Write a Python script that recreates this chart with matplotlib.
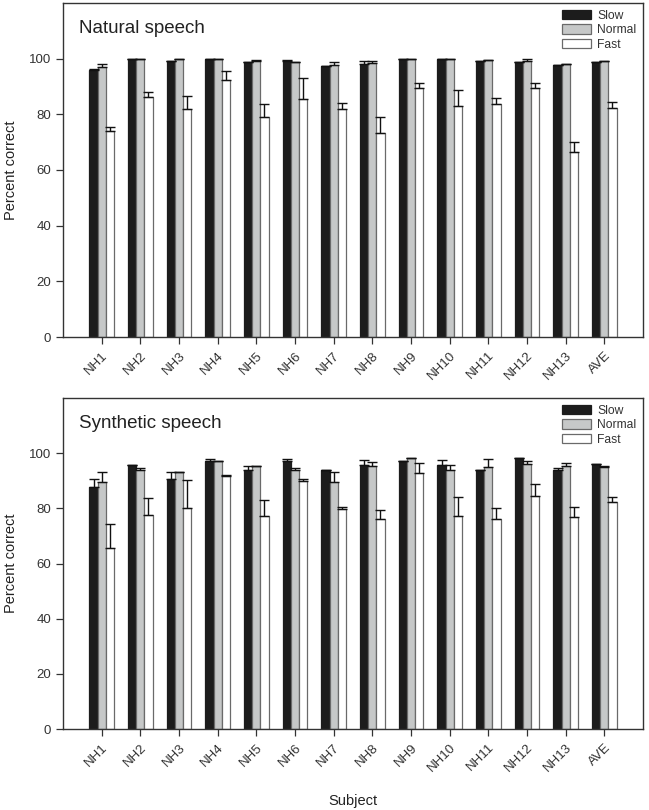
import numpy as np
import matplotlib
matplotlib.use("Agg")
import matplotlib.pyplot as plt

plt.rcParams['font.family'] = ['Liberation Sans', 'DejaVu Sans']

subjects = ["NH1", "NH2", "NH3", "NH4", "NH5", "NH6", "NH7", "NH8", "NH9",
            "NH10", "NH11", "NH12", "NH13", "AVE"]
conditions = ["Slow", "Normal", "Fast"]

# Natural speech: means and upper error bar lengths
nat_slow = [96.0, 100, 99.2, 100, 98.7, 99.0, 97.4, 98.2, 100, 100, 99.0, 98.7, 97.8, 98.9]
nat_slow_err = [0.2, 0, 0, 0, 0.2, 0.5, 0, 1.1, 0, 0, 0, 0, 0, 0]
nat_normal = [97.0, 100, 100, 100, 99.0, 98.9, 97.8, 98.6, 100, 100, 99.5, 99.2, 98.0, 99.0]
nat_normal_err = [1.0, 0, 0, 0, 0.5, 0, 1.1, 0.7, 0, 0, 0, 0.6, 0, 0]
nat_fast = [74.1, 86.2, 82.0, 92.5, 79.0, 85.4, 82.0, 73.2, 89.5, 83.0, 83.6, 89.4, 66.3, 82.4]
nat_fast_err = [1.3, 2.0, 4.6, 3.0, 4.6, 7.6, 1.9, 5.8, 1.9, 5.6, 2.2, 1.7, 3.6, 2.2]

# Synthetic speech
syn_slow = [87.8, 95.7, 90.7, 97.3, 93.9, 97.0, 93.8, 95.8, 97.2, 95.7, 93.9, 98.3, 93.9, 95.9]
syn_slow_err = [2.7, 0, 2.4, 0.7, 1.3, 1.0, 0, 1.8, 0, 1.8, 0, 0, 0.8, 0]
syn_normal = [89.5, 93.9, 93.1, 97.1, 95.3, 93.8, 89.5, 95.4, 98.3, 94.0, 94.9, 96.1, 95.4, 94.9]
syn_normal_err = [3.8, 0.9, 0, 0, 0, 1.0, 3.8, 1.5, 0, 1.7, 3.1, 1.0, 0.9, 0.4]
syn_fast = [65.5, 77.7, 80.0, 91.8, 77.1, 89.9, 79.7, 76.3, 92.7, 77.1, 76.3, 84.6, 76.7, 82.2]
syn_fast_err = [9.0, 5.9, 10.3, 0.3, 5.8, 0.7, 0.9, 3.0, 3.6, 7.1, 3.8, 4.3, 3.8, 1.9]

panels = [
    ("Natural speech", [nat_slow, nat_normal, nat_fast], [nat_slow_err, nat_normal_err, nat_fast_err]),
    ("Synthetic speech", [syn_slow, syn_normal, syn_fast], [syn_slow_err, syn_normal_err, syn_fast_err]),
]

fills = ["#1c1c1c", "#c6c8c8", "white"]
edges = ["#1c1c1c", "#6a6a6a", "#6a6a6a"]
axcol = "#333333"

fig = plt.figure(figsize=(6.49, 8.10), dpi=100)
axes = [fig.add_axes([63/649, 1-337/810, 580/649, 334/810]),
        fig.add_axes([63/649, 1-729/810, 580/649, 331/810])]

x = np.arange(len(subjects))
width = 0.21

for ax, (title, means, errs) in zip(axes, panels):
    for i, cond in enumerate(conditions):
        pos = x + (i - 1) * width
        ax.bar(pos, means[i], width, color=fills[i], edgecolor=edges[i],
               linewidth=0.9, label=cond, zorder=2)
        err = np.array(errs[i])
        ax.errorbar(pos, means[i], yerr=[np.zeros_like(err), err], fmt="none",
                    ecolor="#111111", elinewidth=1.0, capsize=3.6, capthick=1.0, zorder=3)
    ax.set_xlim(-1, 14)
    ax.set_ylim(0, 120)
    ax.set_yticks(range(0, 101, 20))
    ax.set_xticks(x)
    ax.set_xticklabels(subjects, rotation=45, ha="right", rotation_mode="anchor")
    ax.tick_params(direction="out", length=5, width=0.9, colors=axcol, labelsize=9.5,
                   labelcolor="#333333")
    ax.tick_params(axis="x", pad=4)
    for s in ax.spines.values():
        s.set_color(axcol)
        s.set_linewidth(1.0)
    ax.set_ylabel("Percent correct", fontsize=10.5, color="#222222", labelpad=8)
    ax.text(0.028, 0.948, title, transform=ax.transAxes, fontsize=13.5,
            color="#222222", va="top", ha="left")
    ax.legend(loc="upper right", frameon=False, fontsize=8.7, handlelength=2.4,
              handleheight=0.8, labelspacing=0.22, handletextpad=0.5,
              borderaxespad=0.15, labelcolor="#333333")

axes[1].set_xlabel("Subject", fontsize=10.5, color="#222222", labelpad=14)

fig.savefig("out.png", dpi=100)
